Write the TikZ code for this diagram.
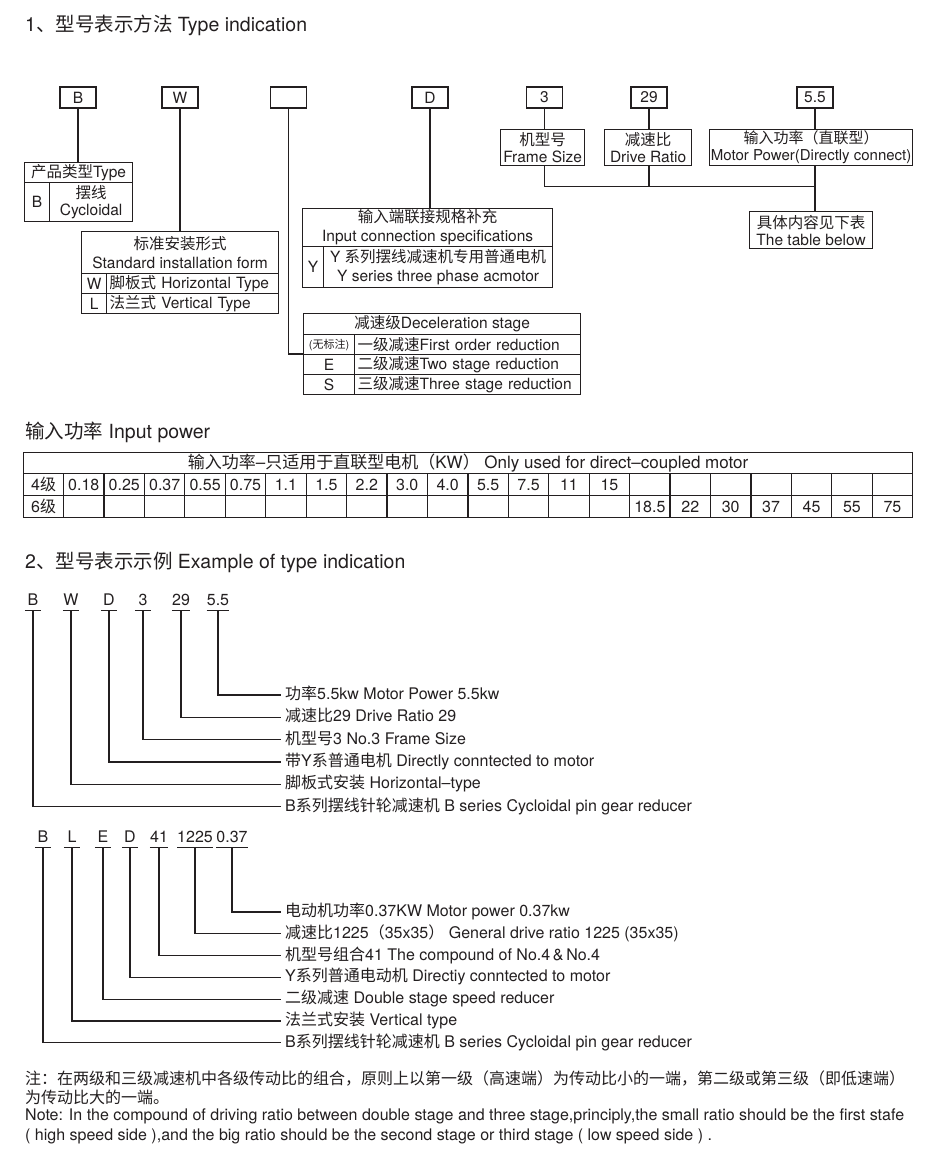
\documentclass[tikz,border=0pt]{standalone}
\usepackage{fontspec}
\setmainfont{TeX Gyre Heros}
\newfontfamily\cjk{Noto Sans CJK SC}
\usepackage{xcolor}
\usepackage{tikz}
\usetikzlibrary{positioning,calc}
\definecolor{ink}{RGB}{35,31,32}
\newcommand\zh[1]{{\cjk #1}}
\newcommand\headfont{\fontsize{19.5}{22}\selectfont}
\newcommand\boxfont{\fontsize{15.5}{17}\selectfont}
\newcommand\lblfont{\fontsize{16}{19}\selectfont}
\newcommand\tinyfont{\fontsize{11}{13}\selectfont}
\newcommand\notezh{\fontsize{16}{19}\selectfont}
\newcommand\noteen{\fontsize{16}{19}\selectfont}
\tikzset{
  tp cell/.style={
    draw=ink,
    line width=1.2pt,
    inner sep=0pt,
    anchor=north west,
    align=center,
    text=ink,
    font=\boxfont,
  },
  tp lcell/.style={
    tp cell,
    inner xsep=3pt,
    align=left,
  },
  tp key/.style={tp cell, anchor=center, minimum width=36pt, minimum height=21pt},
  tp tcell/.style={tp cell, minimum width=40.43pt, minimum height=22pt, font=\lblfont},
  tp code/.style={
    anchor=base,
    inner sep=0pt,
    minimum width=16pt,
    text height=11.5pt,
    text depth=5pt,
    text=ink,
    font=\lblfont,
  },
  tp label/.style={
    anchor=west,
    inner xsep=4pt,
    inner ysep=0pt,
    text height=12pt,
    text depth=3pt,
    text=ink,
    font=\lblfont,
  },
  tp head/.style={anchor=west, inner sep=0pt, text=ink, font=\headfont},
  tp note/.style={anchor=west, inner sep=0pt, text=ink},
  tp link/.style={draw=ink, line width=1.2pt},
}

\begin{document}
\begin{tikzpicture}[x=1pt,y=-1pt]
  \fill[white] (0,0) rectangle (925,1169);
  \useasboundingbox (0,0) rectangle (925,1169);

  \node[tp head] (h1) at (25,25) {1\zh{、型号表示方法} Type indication};

  \node[tp key] (kB) at (78,97.5) {B};
  \node[tp key] (kW) at (180,97.5) {W};
  \node[tp key] (kX) at (288.5,97.5) {};
  \node[tp key] (kD) at (430,97.5) {D};
  \node[tp key] (k3) at (544.5,97.5) {3};
  \node[tp key] (k29) at (649,97.5) {29};
  \node[tp key] (k55) at (815,97.5) {5.5};

  \node[tp cell, minimum width=108pt, minimum height=20pt] (typeHd) at (24,162) {\zh{产品类型}Type};
  \node[tp cell, minimum width=25pt, minimum height=39pt] (typeK) at (24,182) {B};
  \node[tp cell, minimum width=83pt, minimum height=39pt] (typeT) at (49,182) {\zh{摆线}\\Cycloidal};

  \node[tp cell, minimum width=197pt, minimum height=42pt] (instHd) at (81,231) {\zh{标准安装形式}\\[2pt]Standard installation form};
  \node[tp cell, minimum width=25pt, minimum height=20pt] (instK1) at (81,273) {W};
  \node[tp lcell, text width=166pt, minimum height=20pt] (instT1) at (106,273) {\zh{脚板式} Horizontal Type};
  \node[tp cell, minimum width=25pt, minimum height=20pt] (instK2) at (81,293) {L};
  \node[tp lcell, text width=166pt, minimum height=20pt] (instT2) at (106,293) {\zh{法兰式} Vertical Type};

  \node[tp cell, minimum width=250pt, minimum height=38pt] (connHd) at (302,208) {\zh{输入端联接规格补充}\\[2pt]Input connection specifications};
  \node[tp cell, minimum width=21pt, minimum height=41pt] (connK) at (302,246) {Y};
  \node[tp cell, minimum width=229pt, minimum height=41pt] (connT) at (323,246) {Y \zh{系列摆线减速机专用普通电机}\\[2pt]Y series three phase acmotor};

  \node[tp cell, minimum width=277pt, minimum height=21pt] (decHd) at (303,313) {\zh{减速级}Deceleration stage};
  \foreach \k/\t [count=\i from 0] in {{{\tinyfont(\zh{无标注})}}/{\zh{一级减速}First order reduction}, E/{\zh{二级减速}Two stage reduction}, S/{\zh{三级减速}Three stage reduction}} {
    \node[tp cell, minimum width=51pt, minimum height=20pt] (decK\i) at (303,{334+20*\i}) {\k};
    \node[tp lcell, text width=220pt, minimum height=20pt] (decT\i) at (354,{334+20*\i}) {\t};
  }

  \node[tp cell, minimum width=84pt, minimum height=36pt] (frame) at (500,129) {\zh{机型号}\\Frame Size};
  \node[tp cell, minimum width=87pt, minimum height=36pt] (ratio) at (604,129) {\zh{减速比}\\Drive Ratio};
  \node[tp cell, minimum width=203pt, minimum height=36pt, font=\fontsize{15}{17}\selectfont] (power) at (709,129) {\zh{输入功率（直联型）}\\Motor Power(Directly connect)};
  \node[tp cell, minimum width=123pt, minimum height=37pt] (tbl) at (749,211) {\zh{具体内容见下表}\\The table below};

  \draw[tp link] (kB.south) -- (kB.south |- typeHd.north);
  \draw[tp link] (kW.south) -- (kW.south |- instHd.north);
  \draw[tp link] (kX.south) |- (decK1.north west);
  \draw[tp link] (kD.south) -- (kD.south |- connHd.north);
  \draw[tp link] (k3.south) -- (k3.south |- frame.north);
  \draw[tp link] (k29.south) -- (k29.south |- ratio.north);
  \draw[tp link] (k55.south) -- (k55.south |- power.north);
  \draw[tp link] (k3 |- frame.south) -- ++(0,20) -| (k55 |- tbl.north);
  \draw[tp link] (k29 |- ratio.south) -- ++(0,20);
  \draw[tp link] (k55 |- power.south) -- ++(0,20);

  \node[tp head] (h2) at (25,432) {\zh{输入功率} Input power};
  \node[tp cell, minimum width=889pt, minimum height=21pt, font=\fontsize{17}{19}\selectfont] (pwrHd) at (23,452) {\zh{输入功率}–\zh{只适用于直联型电机（}KW\zh{）} Only used for direct–coupled motor};
  \node[tp cell, minimum width=40pt, minimum height=22pt, font=\lblfont] (p4) at (23,473) {4\zh{级}};
  \node[tp cell, minimum width=40pt, minimum height=22pt, font=\lblfont] (p6) at (23,495) {6\zh{级}};
  \foreach \a/\b [count=\i from 0] in {0.18/,0.25/,0.37/,0.55/,0.75/,1.1/,1.5/,2.2/,3.0/,4.0/,5.5/,7.5/,11/,15/,/18.5,/22,/30,/37,/45,/55,/75} {
    \node[tp tcell] (p4-\i) at ({63+40.43*\i},473) {\a};
    \node[tp tcell] (p6-\i) at ({63+40.43*\i},495) {\b};
  }

  \node[tp head] (h3) at (25,562) {2\zh{、型号表示示例} Example of type indication};

  \foreach \c/\x/\t [count=\i] in {
    5.5/218/{\zh{功率}5.5kw Motor Power 5.5kw},
    29/181/{\zh{减速比}29 Drive Ratio 29},
    3/143/{\zh{机型号}3 No.3 Frame Size},
    D/109/{\zh{带}Y\zh{系普通电机} Directly conntected to motor},
    W/71/{\zh{脚板式安装} Horizontal–type},
    B/33/{B\zh{系列摆线针轮减速机} B series Cycloidal pin gear reducer}%
  } {
    \node[tp code] (a\i) at (\x,605) {\c};
    \node[tp label] (al\i) at (281,{695+22.3*(\i-1)}) {\t};
    \draw[tp link] (a\i.south west) -- (a\i.south east);
    \draw[tp link] (a\i.south) |- (al\i.west);
  }

  \foreach \c/\x/\t [count=\i] in {
    0.37/232/{\zh{电动机功率}0.37KW Motor power 0.37kw},
    1225/195/{\zh{减速比}1225\zh{（}35x35\zh{）} General drive ratio 1225 (35x35)},
    41/159/{\zh{机型号组合}41 The compound of No.4\,\&\,No.4},
    D/130/{Y\zh{系列普通电动机} Directiy conntected to motor},
    E/103/{\zh{二级减速} Double stage speed reducer},
    L/72/{\zh{法兰式安装} Vertical type},
    B/43/{B\zh{系列摆线针轮减速机} B series Cycloidal pin gear reducer}%
  } {
    \node[tp code] (b\i) at (\x,842) {\c};
    \node[tp label] (bl\i) at (281,{912+21.8*(\i-1)}) {\t};
    \draw[tp link] (b\i.south west) -- (b\i.south east);
    \draw[tp link] (b\i.south) |- (bl\i.west);
  }

  \node[tp note, font=\notezh] (n1) at (25,1078) {\zh{注：在两级和三级减速机中各级传动比的组合，原则上以第一级（高速端）为传动比小的一端，第二级或第三级（即低速端）}};
  \node[tp note, font=\notezh] (n2) at (25,1097) {\zh{为传动比大的一端。}};
  \node[tp note, font=\noteen] (n3) at (25,1116) {Note: In the compound of driving ratio between double stage and three stage,principly,the small ratio should be the first stafe};
  \node[tp note, font=\noteen] (n4) at (25,1136) {( high speed side ),and the big ratio should be the second stage or third stage ( low speed side ) .};
\end{tikzpicture}
\end{document}
